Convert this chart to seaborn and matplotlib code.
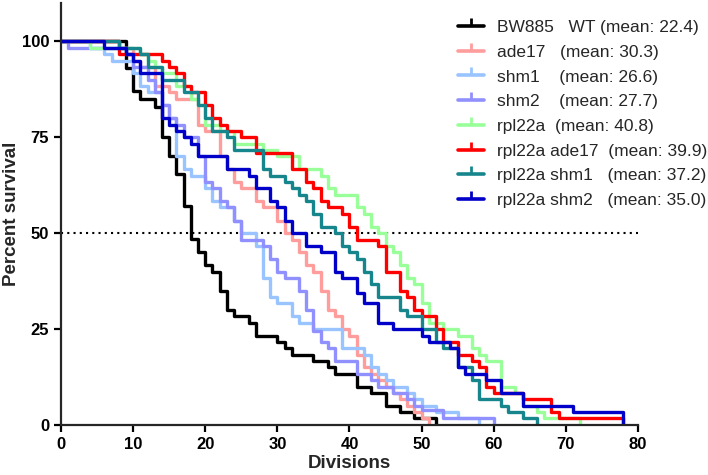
import pandas as pd
import matplotlib.pyplot as plt
import seaborn as sns
from matplotlib.lines import Line2D

# survival curves: division where a drop happens, percent survival after it
bw885_x = [0, 9, 10, 11, 13, 14, 15, 16, 17, 18, 19, 20, 21, 22, 23, 24, 26, 27, 30, 31, 32, 35, 37, 38, 41, 43, 45, 47, 49, 52]
bw885_y = [100, 93, 87, 85, 83, 75, 70, 65.5, 57, 48.5, 45, 41.7, 40, 35, 30, 28.3, 26.7, 23.3, 21.7, 20, 18.3, 16.7, 15, 13.3, 10, 8.3, 5, 3.3, 1.7, 0]

ade17_x = [0, 8, 10, 11, 13, 15, 16, 19, 20, 22, 23, 24, 25, 27, 28, 30, 31, 32, 33, 34, 35, 36, 37, 38, 39, 40, 41, 42, 43, 44, 45, 46, 47, 48, 49, 50, 51]
ade17_y = [100, 98.3, 95, 93.3, 88.3, 86.7, 85, 78.3, 76.7, 70, 66.7, 63.3, 61.7, 58.3, 56.7, 53.3, 50, 48.3, 45, 41.7, 40, 35, 30, 28.3, 25, 23.3, 18.3, 15, 13.3, 11.7, 10, 8.3, 6.7, 5, 3.3, 1.7, 0]

shm1_x = [0, 4, 6, 7, 10, 11, 12, 14, 15, 16, 17, 18, 20, 21, 22, 24, 25, 27, 28, 29, 30, 32, 33, 35, 39, 42, 43, 44, 45, 46, 48, 49, 50, 52, 55, 58]
shm1_y = [100, 98.3, 96.7, 95, 91.7, 88.3, 86.7, 83.3, 80, 70, 66.7, 65, 61.7, 58.3, 56.7, 53.3, 50, 46.7, 38.3, 33.3, 31.7, 28.3, 26.7, 25, 20, 18.3, 15, 13.3, 11.7, 10, 8.3, 6.7, 5, 3.3, 1.7, 0]

shm2_x = [0, 1, 9, 10, 12, 13, 14, 15, 16, 17, 19, 20, 21, 22, 23, 24, 25, 28, 29, 30, 31, 33, 34, 35, 36, 37, 38, 41, 43, 44, 46, 48, 49, 50, 53, 60]
shm2_y = [100, 98.3, 96.7, 93.3, 90, 86.7, 83.3, 80, 78.3, 75, 70, 63.3, 61.7, 58.3, 56.7, 53.3, 48.3, 46.7, 43.3, 40, 38.3, 35, 30, 24.5, 21.7, 20, 16.7, 13.3, 11.7, 10, 8.3, 6.7, 5, 4, 1.7, 0]

rpl22a_x = [0, 4, 11, 12, 13, 14, 16, 18, 19, 20, 22, 24, 28, 30, 33, 36, 37, 38, 41, 42, 43, 44, 45, 46, 47, 48, 49, 50, 51, 53, 55, 57, 58, 59, 61, 63, 64, 66, 67, 72]
rpl22a_y = [100, 98.3, 96.7, 95, 93.3, 91.7, 88.3, 85, 83.3, 78.3, 76.7, 73.3, 71.7, 70, 66.7, 65, 61.7, 60, 56.7, 55, 51.7, 50, 46.7, 45, 41.7, 38.3, 36.7, 31.7, 26.7, 25, 23.3, 20, 18.3, 16.7, 10, 8.3, 5, 3.3, 1.7, 0]

rpl_ade17_x = [0, 8, 14, 15, 16, 17, 18, 20, 21, 22, 23, 25, 27, 32, 34, 35, 36, 37, 39, 40, 41, 44, 45, 47, 48, 49, 50, 52, 53, 55, 57, 58, 59, 60, 64, 68, 69, 78]
rpl_ade17_y = [100, 96.7, 95, 93.3, 91.7, 88.3, 86.7, 83.3, 80, 78.3, 76.7, 75, 70.8, 66.7, 63.3, 61.7, 58.3, 56.7, 55, 51.7, 48.3, 46.7, 40, 35, 33.3, 30, 28.3, 25, 21.7, 18.3, 16.7, 15, 10, 8.3, 6.7, 3.3, 1.7, 0]

rpl_shm1_x = [0, 8, 11, 12, 14, 17, 19, 20, 21, 23, 24, 28, 29, 31, 32, 33, 34, 35, 36, 38, 39, 40, 41, 42, 43, 44, 47, 48, 50, 52, 53, 55, 57, 58, 61, 62, 64, 66]
rpl_shm1_y = [100, 98.3, 96.7, 93.3, 90, 86.7, 83.3, 80, 76.7, 75, 71.7, 66.7, 65, 63.3, 61.7, 60, 58.3, 55, 51.7, 50, 46.7, 45, 43.3, 40, 36.7, 33.3, 30, 28.3, 25, 21.7, 20, 15, 11.7, 6.7, 5, 3.3, 1.7, 0]

rpl_shm2_x = [0, 6, 9, 10, 11, 14, 15, 16, 17, 18, 19, 23, 26, 27, 29, 30, 31, 32, 34, 36, 38, 39, 41, 42, 44, 46, 50, 51, 54, 55, 56, 59, 61, 64, 71, 78]
rpl_shm2_y = [100, 98.3, 96.7, 95, 91.7, 80, 78.3, 76.7, 75, 73.3, 70, 66.7, 65, 61.7, 58.3, 56.7, 53.3, 50, 46.7, 45, 40, 38.3, 34.3, 31.7, 26.7, 25, 23.3, 21.7, 20, 15, 13.3, 11.7, 8.3, 5, 3.3, 0]

strains = ['BW885', 'ade17', 'shm1', 'shm2', 'rpl22a', 'rpl22a ade17', 'rpl22a shm1', 'rpl22a shm2']
legend_labels = ['BW885   WT (mean: 22.4)', 'ade17   (mean: 30.3)', 'shm1    (mean: 26.6)',
                 'shm2    (mean: 27.7)', 'rpl22a  (mean: 40.8)', 'rpl22a ade17  (mean: 39.9)',
                 'rpl22a shm1   (mean: 37.2)', 'rpl22a shm2   (mean: 35.0)']
colors = ['#000000', '#ff9c9c', '#99c4ff', '#9090ff', '#99ff99', '#ff0000', '#17868c', '#0000c8']

curves = [(bw885_x, bw885_y), (ade17_x, ade17_y), (shm1_x, shm1_y), (shm2_x, shm2_y),
          (rpl22a_x, rpl22a_y), (rpl_ade17_x, rpl_ade17_y), (rpl_shm1_x, rpl_shm1_y),
          (rpl_shm2_x, rpl_shm2_y)]

frames = []
for name, (xs, ys) in zip(strains, curves):
    frames.append(pd.DataFrame({'Divisions': xs, 'Survival': ys, 'Strain': name}))
df = pd.concat(frames, ignore_index=True)

sns.set_style('ticks')
plt.rcParams['font.family'] = ['Liberation Sans', 'DejaVu Sans']

fig, ax = plt.subplots(figsize=(7.08, 4.75), dpi=100)
fig.subplots_adjust(left=0.0862, right=0.901, bottom=0.1053, top=0.9937)

ax.axhline(50, color='black', lw=1.5, ls=(0, (1, 2)), zorder=1)

sns.lineplot(data=df, x='Divisions', y='Survival', hue='Strain', hue_order=strains,
             palette=dict(zip(strains, colors)), estimator=None, sort=False,
             drawstyle='steps-post', linewidth=2.4, legend=False, ax=ax, zorder=2)

ax.set_xlim(0, 80)
ax.set_ylim(0, 110)
ax.set_xticks(range(0, 81, 10))
ax.set_yticks([0, 25, 50, 75, 100])
sns.despine(ax=ax)
for side in ['left', 'bottom']:
    ax.spines[side].set_linewidth(1.6)
ax.tick_params(width=1.6, length=5, labelsize=12, colors='black')
for lbl in ax.get_xticklabels() + ax.get_yticklabels():
    lbl.set_fontweight('bold')
ax.set_xlabel('Divisions', fontsize=13.5, fontweight='bold', labelpad=2)
ax.set_ylabel('Percent survival', fontsize=13.5, fontweight='bold', labelpad=1)

handles = [Line2D([0], [0], color=c, lw=2.6, marker=2, markersize=6, markeredgewidth=2)
           for c in colors]
ax.legend(handles, legend_labels, loc='upper left', bbox_to_anchor=(458 / 708, 1 - 20 / 475),
          bbox_transform=fig.transFigure, frameon=False, fontsize=12.5, handlelength=1.5,
          handletextpad=0.75, labelspacing=0.55, borderaxespad=0, borderpad=0)

plt.savefig('out.png', dpi=100)
plt.close()
